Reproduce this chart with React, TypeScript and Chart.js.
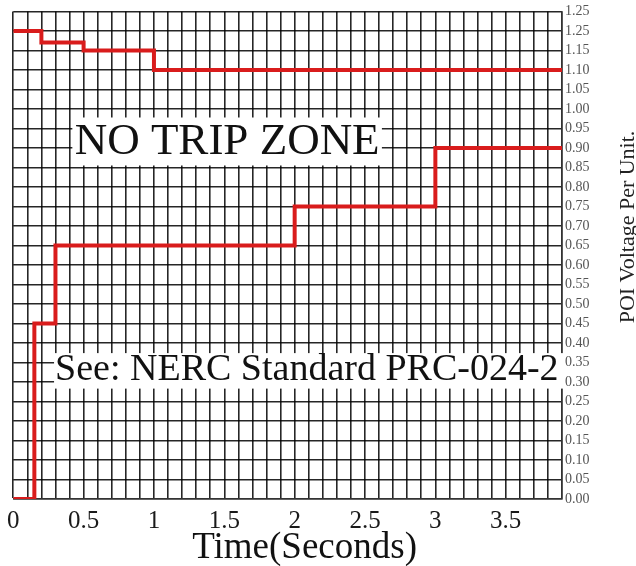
import React, { useEffect, useRef } from 'react';
import { Chart, registerables } from 'chart.js';

Chart.register(...registerables);

// Voltage ride-through curves (time in seconds, voltage in per unit)
const highTimes = [0, 0.2, 0.5, 1.0, 3.9];
const highVolts = [1.2, 1.17, 1.15, 1.1, 1.1];
const lowTimes = [0, 0.15, 0.3, 2.0, 3.0, 3.9];
const lowVolts = [0, 0.45, 0.65, 0.75, 0.9, 0.9];

const xTickLabels = ['0', '0.5', '1', '1.5', '2', '2.5', '3', '3.5'];
const yTickLabels = [
  '0.00', '0.05', '0.10', '0.15', '0.20', '0.25', '0.30', '0.35', '0.40',
  '0.45', '0.50', '0.55', '0.60', '0.65', '0.70', '0.75', '0.80', '0.85',
  '0.90', '0.95', '1.00', '1.05', '1.10', '1.15', '1.25', '1.25',
];

const xTitle = 'Time(Seconds)';
const yTitle = 'POI Voltage Per Unit.';
const noTripText = 'NO TRIP ZONE';
const seeText = 'See: NERC Standard PRC-024-2';

const SERIF = '"Liberation Serif", "Times New Roman", serif';
const RED = '#d91c1c';

const zonesPlugin = {
  id: 'zones',
  beforeDatasetsDraw(chart: any) {
    const { ctx, scales } = chart;
    const x = scales.x;
    const y = scales.y;
    ctx.save();
    // NO TRIP ZONE box
    {
      const x0 = x.getPixelForValue(0.42);
      const x1 = x.getPixelForValue(2.62);
      const y0 = y.getPixelForValue(0.978);
      const y1 = y.getPixelForValue(0.855);
      ctx.fillStyle = '#ffffff';
      ctx.fillRect(x0, y0, x1 - x0, y1 - y0);
      ctx.fillStyle = '#111';
      ctx.font = `45px ${SERIF}`;
      ctx.textAlign = 'center';
      ctx.textBaseline = 'middle';
      ctx.fillText(noTripText, (x0 + x1) / 2, y.getPixelForValue(0.914));
    }
    // See NERC box
    {
      const x0 = x.getPixelForValue(0.29);
      const x1 = x.getPixelForValue(3.92);
      const y0 = y.getPixelForValue(0.374);
      const y1 = y.getPixelForValue(0.283);
      ctx.fillStyle = '#ffffff';
      ctx.fillRect(x0, y0, x1 - x0, y1 - y0);
      ctx.fillStyle = '#111';
      ctx.font = `38px ${SERIF}`;
      ctx.textAlign = 'left';
      ctx.textBaseline = 'middle';
      ctx.fillText(seeText, x0 + 1, y.getPixelForValue(0.33));
    }
    ctx.restore();
  },
  afterDraw(chart: any) {
    const { ctx, chartArea } = chart;
    ctx.save();
    ctx.fillStyle = '#111';
    ctx.font = `37px ${SERIF}`;
    ctx.textAlign = 'center';
    ctx.textBaseline = 'middle';
    ctx.fillText(xTitle, (chartArea.left + chartArea.right) / 2 + 17, 548);
    ctx.translate(chartArea.right + 66, 227);
    ctx.rotate(-Math.PI / 2);
    ctx.font = `22px ${SERIF}`;
    ctx.fillStyle = '#222';
    ctx.fillText(yTitle, 0, 0);
    ctx.restore();
  },
};

export default function App() {
  const canvasRef = useRef<HTMLCanvasElement | null>(null);

  useEffect(() => {
    if (!canvasRef.current) return;
    const chart = new Chart(canvasRef.current, {
      type: 'line',
      data: {
        datasets: [
          {
            label: 'High',
            data: highTimes.map((t, i) => ({ x: t, y: highVolts[i] })),
            borderColor: RED,
            borderWidth: 4,
            pointRadius: 0,
            stepped: true,
            fill: false,
          },
          {
            label: 'Low',
            data: lowTimes.map((t, i) => ({ x: t, y: lowVolts[i] })),
            borderColor: RED,
            borderWidth: 4,
            pointRadius: 0,
            stepped: true,
            fill: false,
          },
        ],
      },
      options: {
        responsive: false,
        animation: false,
        layout: { padding: { left: 8, top: 8, right: 0, bottom: 0 } },
        plugins: {
          legend: { display: false },
          tooltip: { enabled: false },
          title: { display: false },
        },
        scales: {
          x: {
            type: 'linear',
            min: 0,
            max: 3.9,
            afterFit: (s: any) => {
              s.height = 67;
            },
            grid: {
              color: 'rgba(0,0,0,0.85)',
              lineWidth: 1.6,
              drawTicks: false,
            },
            border: { color: '#333', width: 1.5 },
            ticks: {
              stepSize: 0.1,
              autoSkip: false,
              maxRotation: 0,
              padding: 7,
              color: '#1a1a1a',
              font: { family: SERIF, size: 25 },
              callback: (value: any) => {
                const k = Math.round(Number(value) * 10);
                if (k % 5 === 0 && k / 5 < xTickLabels.length) return xTickLabels[k / 5];
                return '';
              },
            },
          },
          y: {
            type: 'linear',
            position: 'right',
            min: 0,
            max: 1.25,
            afterFit: (s: any) => {
              s.width = 74;
            },
            grid: {
              color: 'rgba(0,0,0,0.85)',
              lineWidth: 1.6,
              drawTicks: false,
            },
            border: { color: '#333', width: 1.5 },
            ticks: {
              stepSize: 0.05,
              autoSkip: false,
              padding: 3,
              color: '#555',
              font: { family: SERIF, size: 14 },
              callback: (_v: any, index: number) => yTickLabels[index] ?? '',
            },
          },
        },
      },
      plugins: [zonesPlugin],
    });
    return () => chart.destroy();
  }, []);

  return (
    <div style={{ position: 'absolute', left: 0, top: 0, width: 636, height: 566, background: '#fff' }}>
      <canvas ref={canvasRef} width={636} height={566} />
    </div>
  );
}
